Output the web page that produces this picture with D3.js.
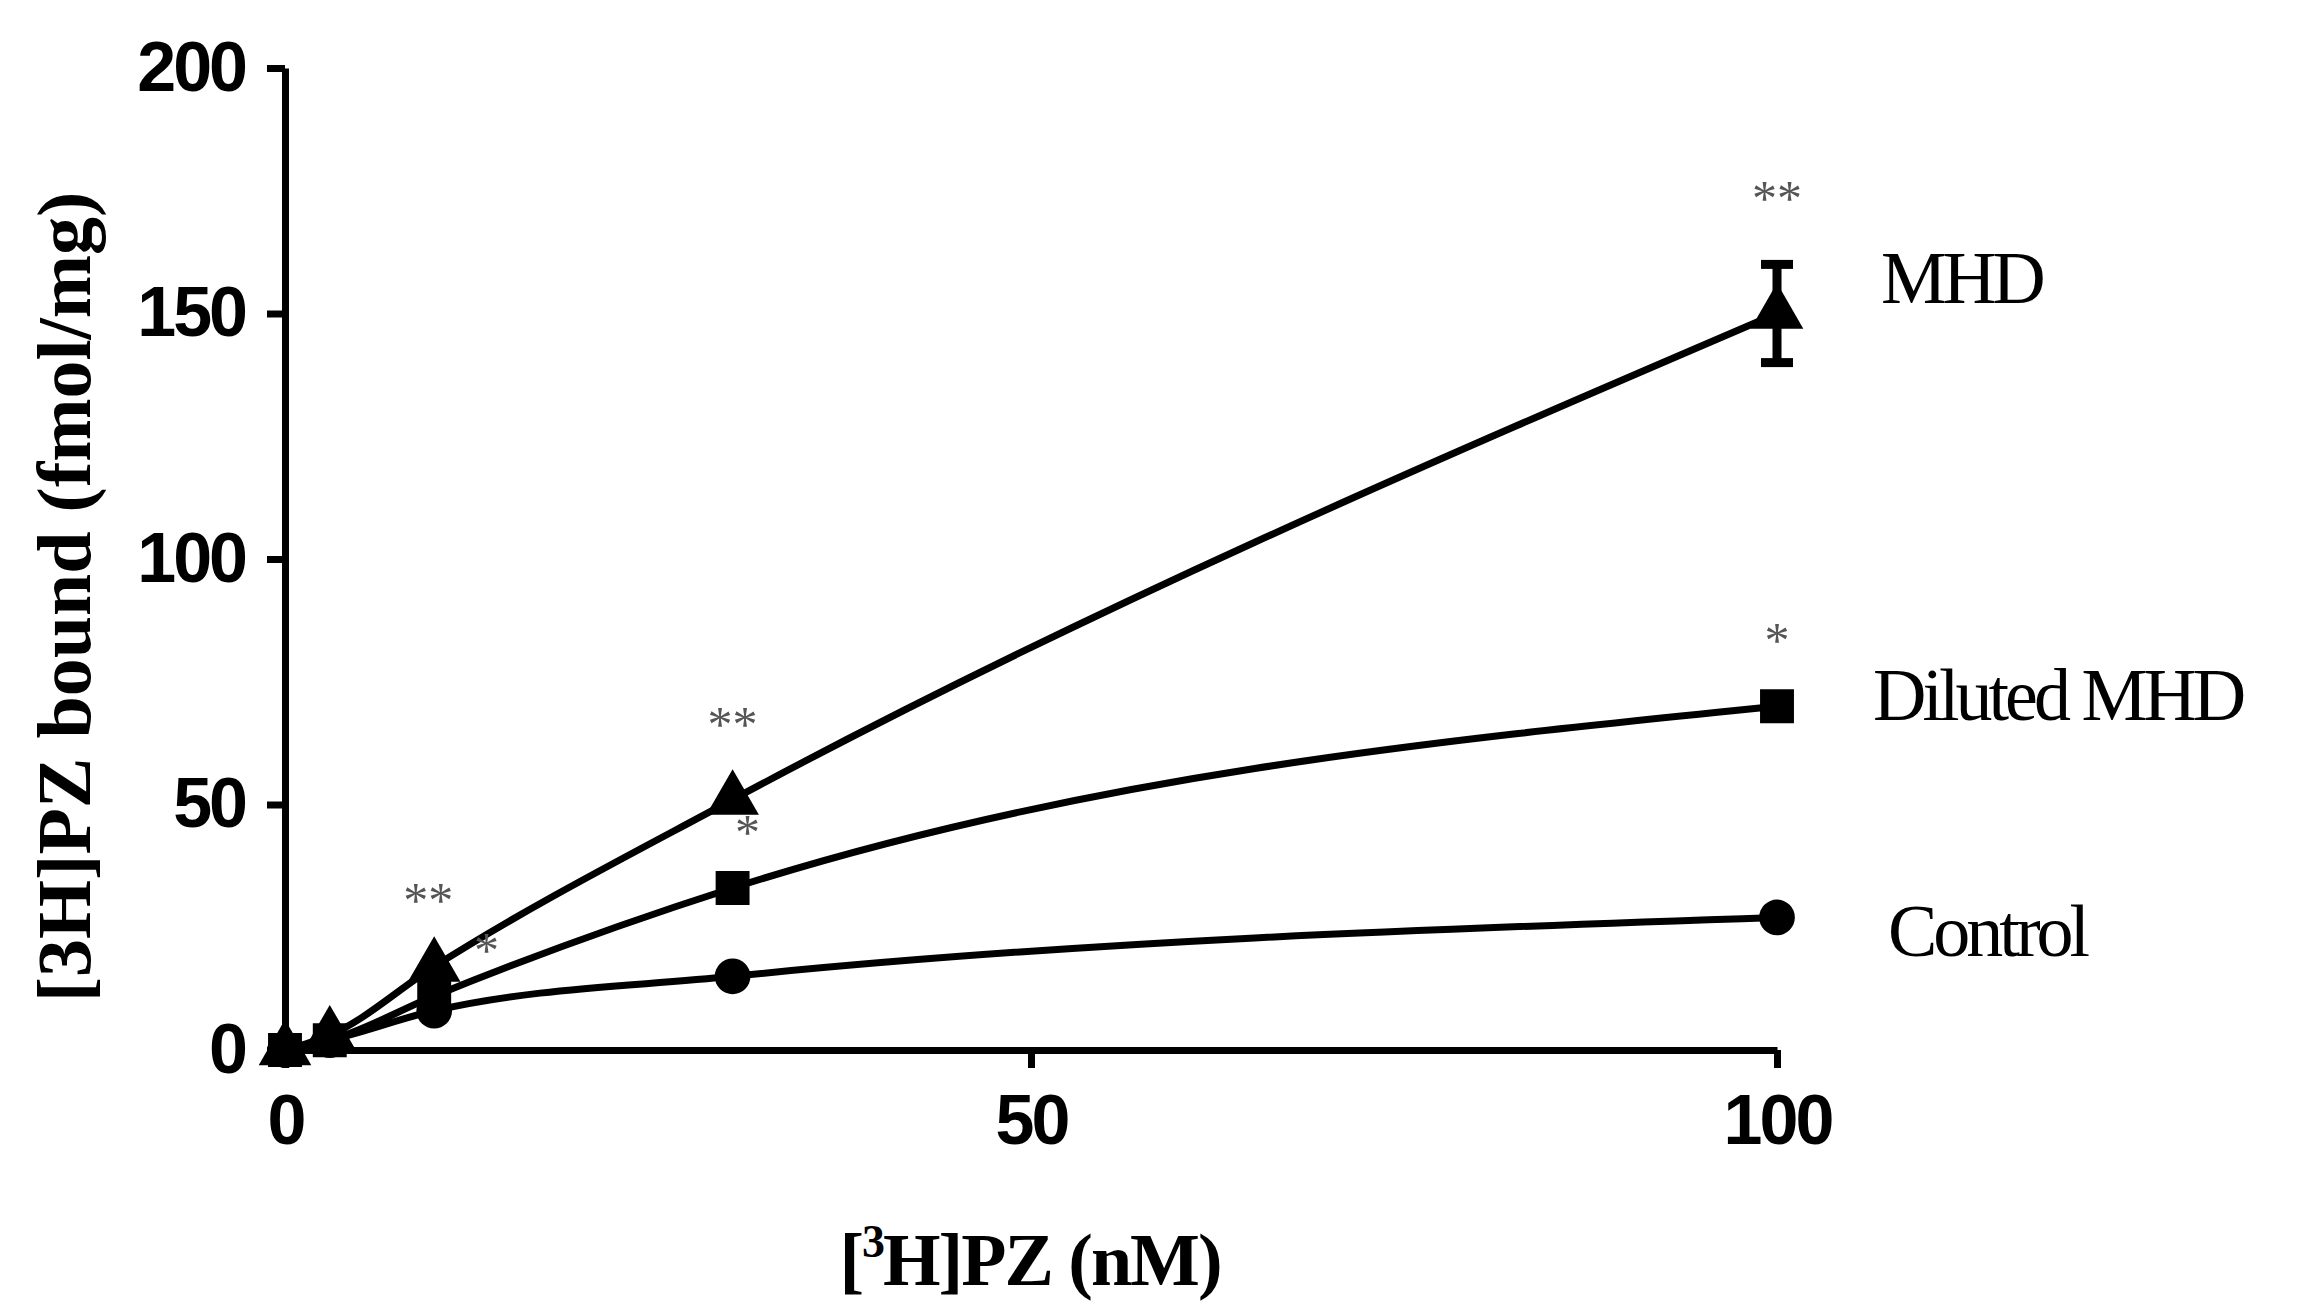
<!DOCTYPE html>
<html><head><meta charset="utf-8">
<script src="https://cdn.jsdelivr.net/npm/d3@7"></script>
<style>body{margin:0;background:#fff}</style>
</head><body><svg id="c" width="2301" height="1311"></svg>
<script>
const conc = [0, 3, 10, 30, 100];
const control = [0, 2, 8, 15, 27];
const diluted = [0, 2, 11, 33, 70];
const mhd = [0, 3, 17, 51, 150];
const mhdErr = [0, 0, 0, 0, 10];
const xTicks = [0, 50, 100];
const yTicks = [0, 50, 100, 150, 200];
const stars = [
  { x: 100, y: 170, t: "**" }, { x: 30, y: 63, t: "**" }, { x: 9.6, y: 27, t: "**" },
  { x: 100, y: 80, t: "*" }, { x: 31, y: 41, t: "*" }, { x: 13.5, y: 17, t: "*" }
];
const labels = [
  { name: "MHD", y: 157, x: 1881 }, { name: "Diluted MHD", y: 72, x: 1873 }, { name: "Control", y: 24, x: 1888 }
];

const svg = d3.select("#c");
const x = d3.scaleLinear().domain([0, 100]).range([285, 1777]);
const y = d3.scaleLinear().domain([0, 200]).range([1050, 68]);

const xa = svg.append("g").attr("transform", "translate(0,1050)")
  .call(d3.axisBottom(x).tickValues(xTicks).tickSize(18).tickPadding(26).tickSizeOuter(0));
const ya = svg.append("g").attr("transform", "translate(285,0)")
  .call(d3.axisLeft(y).tickValues(yTicks).tickSize(18).tickPadding(22).tickSizeOuter(0));
[xa, ya].forEach(a => {
  a.selectAll("path,line").attr("stroke", "#000").attr("stroke-width", 7);
  a.selectAll("text").attr("font-family", "Liberation Sans, Arial").attr("font-weight", "bold")
    .attr("font-size", 70).attr("letter-spacing", -3).attr("fill", "#000");
});

const line = d3.line().x((d, i) => x(conc[i])).y(d => y(d)).curve(d3.curveMonotoneX);
[control, diluted, mhd].forEach(s => {
  svg.append("path").attr("d", line(s)).attr("fill", "none").attr("stroke", "#000").attr("stroke-width", 7);
});

// error bar for MHD
mhd.forEach((v, i) => {
  if (!mhdErr[i]) return;
  const cx = x(conc[i]);
  svg.append("line").attr("x1", cx).attr("x2", cx).attr("y1", y(v - mhdErr[i])).attr("y2", y(v + mhdErr[i]))
    .attr("stroke", "#000").attr("stroke-width", 9);
  [v - mhdErr[i], v + mhdErr[i]].forEach(e => svg.append("line").attr("x1", cx - 16).attr("x2", cx + 16)
    .attr("y1", y(e)).attr("y2", y(e)).attr("stroke", "#000").attr("stroke-width", 9));
});

const sym = (type, size) => d3.symbol().type(type).size(size)();
conc.forEach((c, i) => {
  svg.append("path").attr("d", sym(d3.symbolCircle, 1000)).attr("transform", `translate(${x(c)},${y(control[i])})`);
  svg.append("path").attr("d", sym(d3.symbolSquare, 1150)).attr("transform", `translate(${x(c)},${y(diluted[i])})`);
  svg.append("path").attr("d", sym(d3.symbolTriangle, 1200)).attr("transform", `translate(${x(c)},${y(mhd[i])})`);
});

stars.forEach(s => svg.append("text").attr("x", x(s.x)).attr("y", y(s.y)).attr("text-anchor", "middle")
  .attr("font-family", "Liberation Serif").attr("font-size", 50).attr("fill", "#555").text(s.t));

labels.forEach(l => svg.append("text").attr("x", l.x).attr("y", y(l.y) + 24)
  .attr("font-family", "Liberation Serif").attr("font-size", 74)
  .attr("letter-spacing", -4).text(l.name));

svg.append("text").attr("transform", "translate(90,597) rotate(-90)").attr("text-anchor", "middle")
  .attr("font-family", "Liberation Serif").attr("font-weight", "bold").attr("font-size", 76)
  .text("[3H]PZ bound (fmol/mg)");
const xt = svg.append("text").attr("x", 1030).attr("y", 1285).attr("text-anchor", "middle")
  .attr("font-family", "Liberation Serif").attr("font-weight", "bold").attr("font-size", 74)
  .attr("letter-spacing", -2);
xt.append("tspan").text("[");
xt.append("tspan").attr("font-size", 46).attr("dy", -28).text("3");
xt.append("tspan").attr("dy", 28).text("H]PZ (nM)");
</script></body></html>
